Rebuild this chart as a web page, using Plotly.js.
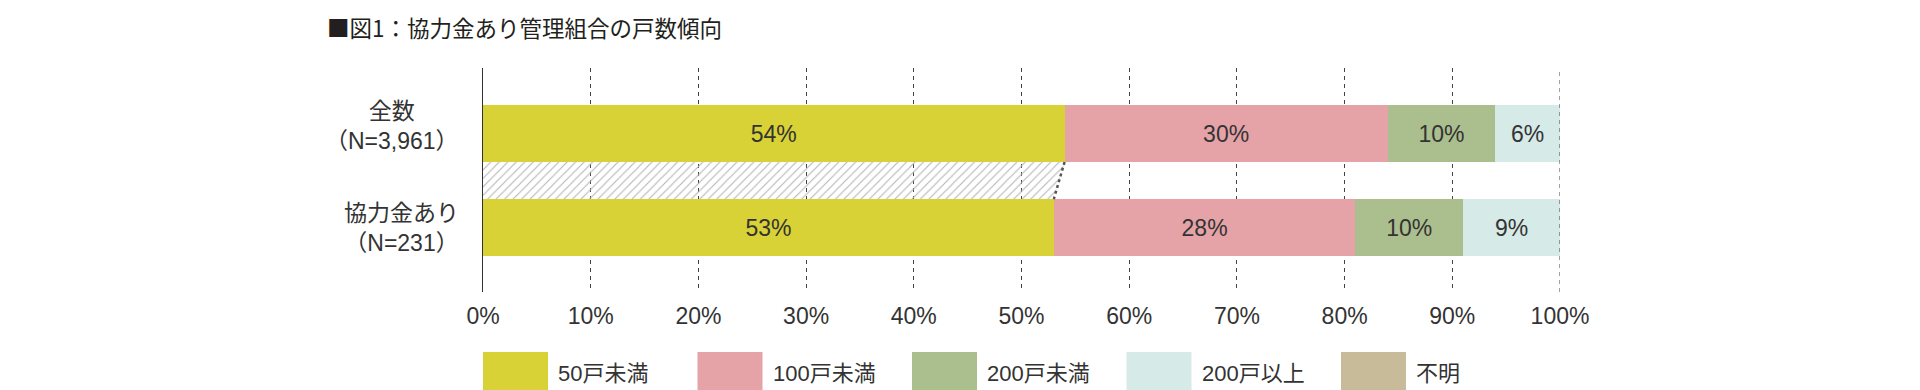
<!DOCTYPE html>
<html>
<head>
<meta charset="utf-8">
<script src="https://cdn.plot.ly/plotly-3.0.1.min.js"></script>
<style>html,body{margin:0;padding:0;background:#fff;}#chart{width:1920px;height:390px;}</style>
</head>
<body>
<div id="chart"></div>
<script>
// ---- data ----
const categories = ['全数', '協力金あり'];
const sampleSizes = ['N=3,961', 'N=231'];
const seriesNames = ['50戸未満', '100戸未満', '200戸未満', '200戸以上', '不明'];
const under50 = [54, 53];
const under100 = [30, 28];
const under200 = [10, 10];
const over200 = [6, 9];
const unknown = [0, 0];
const xTickValues = [0, 10, 20, 30, 40, 50, 60, 70, 80, 90, 100];
const chartTitle = '■図1：協力金あり管理組合の戸数傾向';

// ---- styles ----
const colors = ['#D8D236', '#E5A3A8', '#ABBF8E', '#D6EAE8', '#C8BB9A'];
const FONT = '"Liberation Sans", "Noto Sans CJK JP", sans-serif';
const CJK = '"Noto Sans CJK JP", sans-serif';
const TXT = '#333333';
const barWidth = 0.606;

const seriesValues = [under50, under100, under200, over200, unknown];
const yPos = categories.map((c, i) => categories.length - 1 - i);

const traces = seriesValues.map((vals, k) => ({
  type: 'bar',
  orientation: 'h',
  name: seriesNames[k],
  x: vals,
  y: yPos,
  width: barWidth,
  marker: {color: colors[k], line: {width: 0}},
  text: vals.map(v => v > 0 ? v + '%' : ''),
  textposition: 'inside',
  insidetextanchor: 'middle',
  textangle: 0,
  textfont: {family: FONT, size: 23, color: TXT},
  hoverinfo: 'skip',
  showlegend: false
}));

// hatched connector between the 50戸未満 segments
const yTopGap = yPos[0] - barWidth / 2;
const yBotGap = yPos[1] + barWidth / 2;
traces.push({
  type: 'scatter',
  x: [0, under50[0], under50[1], 0, 0],
  y: [yTopGap, yTopGap, yBotGap, yBotGap, yTopGap],
  mode: 'none',
  fill: 'toself',
  fillcolor: 'rgba(0,0,0,0)',
  fillpattern: {shape: '/', fgcolor: '#b4b4b4', bgcolor: 'rgba(255,255,255,0)', size: 6, solidity: 0.18},
  hoverinfo: 'skip',
  showlegend: false
});
traces.push({
  type: 'scatter',
  x: [under50[0], under50[1]],
  y: [yTopGap, yBotGap],
  mode: 'lines',
  line: {color: '#555', width: 2.5, dash: 'dot'},
  hoverinfo: 'skip',
  showlegend: false
});

const plotW = 1920 - 483 - 360;
const plotH = 390 - 68 - 98;
const annotations = [];
const shapes = [];

// 100% gridline (Plotly omits the gridline on the plot edge)
shapes.push({
  type: 'line', xref: 'x', yref: 'paper',
  x0: xTickValues[xTickValues.length - 1], x1: xTickValues[xTickValues.length - 1],
  y0: 0, y1: 1,
  line: {color: '#444', width: 1, dash: '4px,4px'},
  layer: 'above'
});

// category labels (centered two-line)
const labelShift = [8, 0];
categories.forEach((c, i) => {
  annotations.push({
    xref: 'paper', yref: 'y',
    x: -22 / plotW, y: yPos[i],
    xanchor: 'right', yanchor: 'middle',
    yshift: labelShift[i],
    text: c + '<br>（' + sampleSizes[i] + '）',
    align: 'center',
    showarrow: false,
    font: {family: FONT, size: 23, color: TXT}
  });
});

// custom legend
seriesNames.forEach((name, k) => {
  const x0 = (k * 214.5) / plotW;
  const x1 = x0 + 65 / plotW;
  shapes.push({
    type: 'rect', xref: 'paper', yref: 'paper',
    x0: x0, x1: x1, y0: -(392 - 292) / plotH, y1: -(352 - 292) / plotH,
    fillcolor: colors[k], line: {width: 0}
  });
  annotations.push({
    xref: 'paper', yref: 'paper',
    x: x1 + 8 / plotW, y: -(373 - 292) / plotH,
    xanchor: 'left', yanchor: 'middle',
    text: name, showarrow: false,
    font: {family: FONT, size: 22, color: TXT}
  });
});

const layout = {
  width: 1920, height: 390,
  margin: {l: 483, r: 360, t: 68, b: 98, pad: 0},
  paper_bgcolor: '#fff', plot_bgcolor: '#fff',
  barmode: 'stack',
  bargap: 0,
  showlegend: false,
  title: {
    text: chartTitle,
    xref: 'container', yref: 'container',
    x: 327 / 1920, xanchor: 'left',
    y: 1 - 29 / 390, yanchor: 'middle',
    font: {family: CJK, size: 22.5, color: '#231f20'}
  },
  xaxis: {
    range: [0, 100],
    tickvals: xTickValues,
    ticktext: xTickValues.map(v => v + '%'),
    showgrid: true,
    gridcolor: '#444',
    gridwidth: 1,
    griddash: '4px,4px',
    zeroline: false,
    showline: false,
    ticks: '',
    ticklabelstandoff: 8,
    tickfont: {family: FONT, size: 23, color: TXT},
    fixedrange: true
  },
  yaxis: {
    range: [-0.686, 1.697],
    showgrid: false,
    zeroline: false,
    showline: true,
    linecolor: '#333',
    linewidth: 1.3,
    showticklabels: false,
    ticks: '',
    fixedrange: true
  },
  annotations: annotations,
  shapes: shapes
};

Plotly.newPlot('chart', traces, layout, {displayModeBar: false, staticPlot: true});
</script>
</body>
</html>
